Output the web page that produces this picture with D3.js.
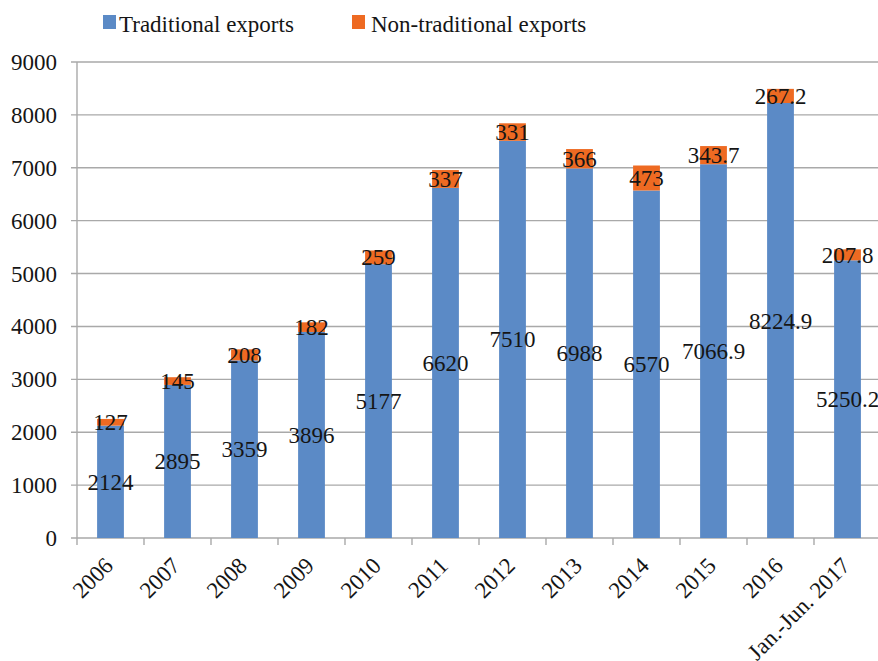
<!DOCTYPE html>
<html>
<head>
<meta charset="utf-8">
<script src="https://cdn.jsdelivr.net/npm/d3@7"></script>
<style>
  html, body { margin: 0; padding: 0; background: #fff; }
  svg { display: block; font-family: "Liberation Serif", "Times New Roman", serif; }
</style>
</head>
<body>
<svg id="chart" width="878" height="661"></svg>
<script>
// Export values by period
const categories = ["2006", "2007", "2008", "2009", "2010", "2011", "2012", "2013", "2014", "2015", "2016", "Jan.-Jun. 2017"];
const traditional = [2124, 2895, 3359, 3896, 5177, 6620, 7510, 6988, 6570, 7066.9, 8224.9, 5250.2];
const nonTraditional = [127, 145, 208, 182, 259, 337, 331, 366, 473, 343.7, 267.2, 207.8];
const seriesNames = ["Traditional exports", "Non-traditional exports"];
const seriesColors = ["#5B8AC6", "#EE6A22"];
const yTicks = [0, 1000, 2000, 3000, 4000, 5000, 6000, 7000, 8000, 9000];

const svg = d3.select("#chart");
const fontSize = 23;
const textColor = "#151515";
const gridColor = "#A9A9A9";

const x = d3.scaleBand().domain(categories).range([77, 881]).paddingInner(0.6).paddingOuter(0.3);
const xGroup = d3.scaleBand().domain(categories).range([77, 881]);
const y = d3.scaleLinear().domain([0, 9000]).range([538, 62]);

// Horizontal gridlines
svg.append("g")
  .selectAll("line")
  .data(yTicks)
  .join("line")
  .attr("x1", 71).attr("x2", 881)
  .attr("y1", d => y(d)).attr("y2", d => y(d))
  .attr("stroke", gridColor).attr("stroke-width", 1.4);

// Y axis line and labels
svg.append("line")
  .attr("x1", 77).attr("x2", 77).attr("y1", y(9000)).attr("y2", y(0) + 7)
  .attr("stroke", gridColor).attr("stroke-width", 1.4);

svg.append("g")
  .selectAll("text")
  .data(yTicks)
  .join("text")
  .attr("x", 57).attr("y", d => y(d))
  .attr("dy", "0.35em")
  .attr("text-anchor", "end")
  .attr("font-size", fontSize)
  .attr("fill", textColor)
  .text(d => d);

// X axis ticks at band boundaries
svg.append("g")
  .selectAll("line")
  .data(categories)
  .join("line")
  .attr("x1", d => xGroup(d) + xGroup.bandwidth()).attr("x2", d => xGroup(d) + xGroup.bandwidth())
  .attr("y1", y(0)).attr("y2", y(0) + 7)
  .attr("stroke", gridColor).attr("stroke-width", 1.4);

// Stacked bars
const stackData = categories.map((c, i) => ({ cat: c, t: traditional[i], n: nonTraditional[i] }));
const stack = d3.stack().keys(["t", "n"])(stackData);

const layers = svg.append("g")
  .selectAll("g")
  .data(stack)
  .join("g")
  .attr("fill", (d, i) => seriesColors[i]);

layers.selectAll("rect")
  .data(d => d)
  .join("rect")
  .attr("x", d => x(d.data.cat))
  .attr("width", x.bandwidth())
  .attr("y", d => y(d[1]))
  .attr("height", d => y(d[0]) - y(d[1]));

// Value labels centred on each segment
const labels = svg.append("g");
stack.forEach((layer, li) => {
  labels.selectAll(null)
    .data(layer)
    .join("text")
    .attr("x", d => x(d.data.cat) + x.bandwidth() / 2)
    .attr("y", d => y((d[0] + d[1]) / 2))
    .attr("dy", "0.35em")
    .attr("text-anchor", "middle")
    .attr("font-size", fontSize)
    .attr("fill", textColor)
    .text(d => li === 0 ? d.data.t : d.data.n);
});

// Rotated category labels
svg.append("g")
  .selectAll("text")
  .data(categories)
  .join("text")
  .attr("transform", d => `translate(${xGroup(d) + xGroup.bandwidth() / 2 + 4},${y(0) + 29}) rotate(-45)`)
  .attr("text-anchor", "end")
  .attr("font-size", fontSize)
  .attr("fill", textColor)
  .text(d => d);

// Legend
const legendItems = [{ x: 103, tx: 119 }, { x: 352, tx: 371 }];
const legend = svg.append("g");
seriesNames.forEach((name, i) => {
  legend.append("rect")
    .attr("x", legendItems[i].x).attr("y", 15)
    .attr("width", 13).attr("height", 14)
    .attr("fill", seriesColors[i]);
  legend.append("text")
    .attr("x", legendItems[i].tx).attr("y", 32)
    .attr("font-size", fontSize)
    .attr("fill", textColor)
    .text(name);
});
</script>
</body>
</html>
